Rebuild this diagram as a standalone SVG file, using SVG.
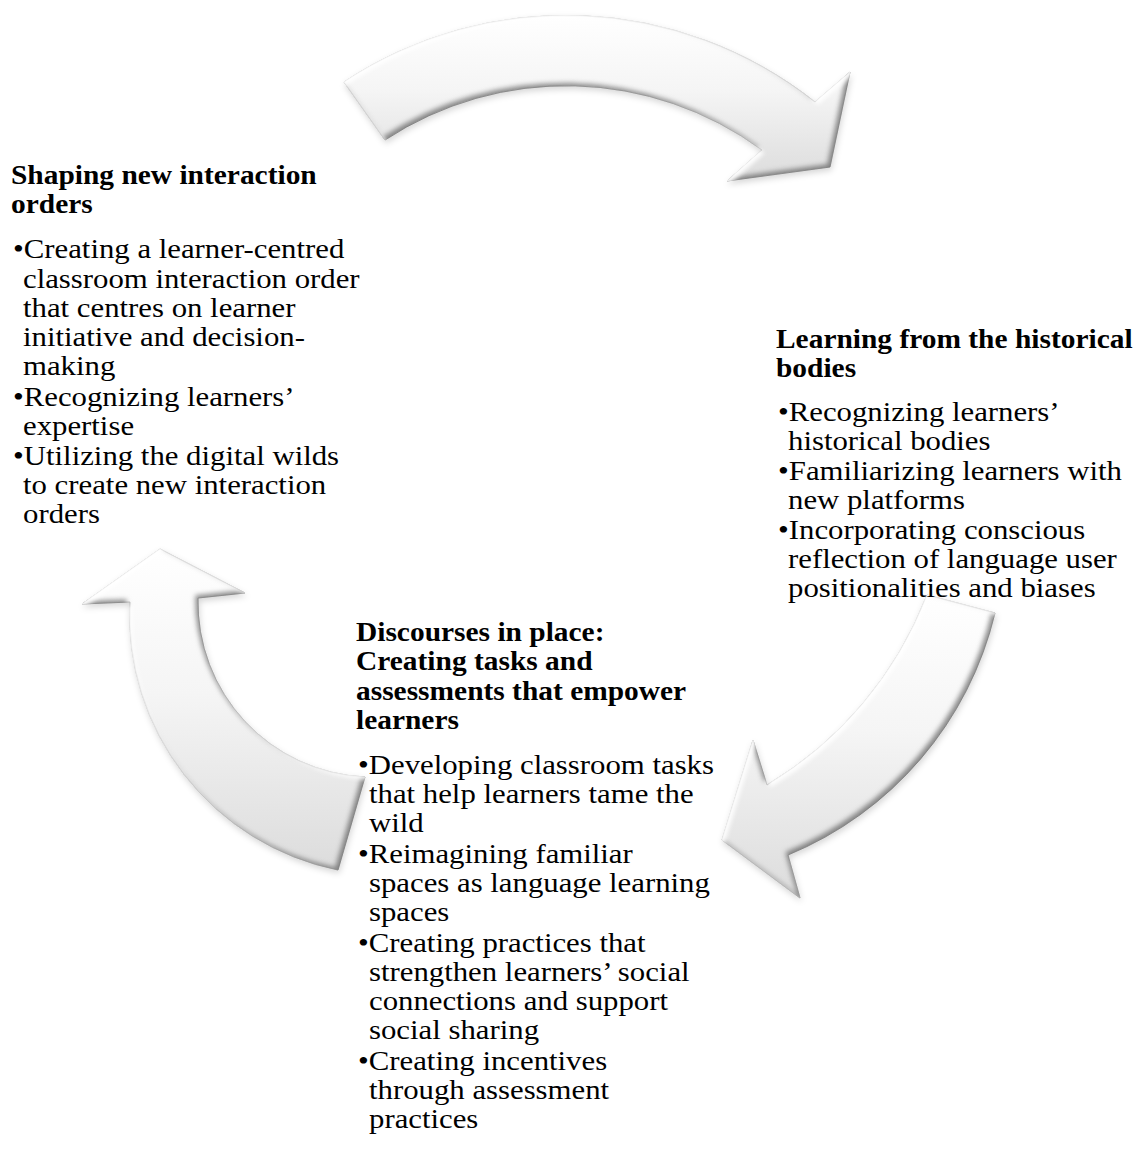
<svg xmlns="http://www.w3.org/2000/svg" width="1142" height="1173" viewBox="0 0 1142 1173">
<defs>
<linearGradient id="gFill" x1="0" y1="0" x2="0" y2="1">
<stop offset="0" stop-color="#ffffff"/>
<stop offset="0.45" stop-color="#f5f5f5"/>
<stop offset="1" stop-color="#dcdcdc"/>
</linearGradient>
<filter id="bev" x="-10%" y="-10%" width="125%" height="125%" color-interpolation-filters="sRGB">
<feOffset in="SourceAlpha" dx="-3" dy="-3" result="o"/>
<feGaussianBlur in="o" stdDeviation="2.5" result="ob"/>
<feComposite in="SourceAlpha" in2="ob" operator="out" result="edge"/>
<feFlood flood-color="#5a5a5a" flood-opacity="0.7"/>
<feComposite in2="edge" operator="in" result="shade"/>
<feOffset in="SourceAlpha" dx="3" dy="3" result="o2"/>
<feGaussianBlur in="o2" stdDeviation="2" result="o2b"/>
<feComposite in="SourceAlpha" in2="o2b" operator="out" result="edge2"/>
<feFlood flood-color="#ffffff" flood-opacity="0.95"/>
<feComposite in2="edge2" operator="in" result="hl"/>
<feGaussianBlur in="SourceAlpha" stdDeviation="3" result="sb0"/>
<feOffset in="sb0" dx="1" dy="3" result="sb"/>
<feFlood flood-color="#000000" flood-opacity="0.16"/>
<feComposite in2="sb" operator="in" result="shadow"/>
<feMerge><feMergeNode in="shadow"/><feMergeNode in="SourceGraphic"/><feMergeNode in="shade"/><feMergeNode in="hl"/></feMerge>
</filter>
<style>
.arrow{fill:url(#gFill);stroke:#b4b4b4;stroke-width:0.8;filter:url(#bev);}
.t{font-family:"Liberation Serif","Times New Roman",serif;font-size:27px;fill:#000;}
.b{font-weight:bold;}
</style>
</defs>
<rect width="1142" height="1173" fill="#ffffff"/>
<g id="connectors">
<path id="arrow-top" class="arrow" d="M344,82 A402,402 0 0 1 815,102 L850,72 L830,167 L727,181 L762,150 A330,330 0 0 0 385,140 Z"/>
<path id="arrow-right" class="arrow" d="M927,595 L995,613 A350,350 0 0 1 788,855 L800,898 L722,840 L753,740 L767,785 A380,380 0 0 0 927,595 Z"/>
<path id="arrow-left" class="arrow" d="M338,870 L365,777 A175,175 0 0 1 198,598 L245,593 L160,549 L82,604 L130,602 A260,260 0 0 0 338,870 Z"/>
</g>
<g id="node-shaping">
<g transform="translate(11,0) scale(1.09,1)">
<text class="t b" x="0" y="184">Shaping new interaction</text>
<text class="t b" x="0" y="213">orders</text>
</g>
<g transform="translate(13,0) scale(1.14,1)">
<text class="t" x="0" y="258">•Creating a learner-centred</text>
<text class="t" x="0" y="406">•Recognizing learners’</text>
<text class="t" x="0" y="465">•Utilizing the digital wilds</text>
</g>
<g transform="translate(23,0) scale(1.14,1)">
<text class="t" x="0" y="288">classroom interaction order</text>
<text class="t" x="0" y="317">that centres on learner</text>
<text class="t" x="0" y="346">initiative and decision-</text>
<text class="t" x="0" y="375">making</text>
<text class="t" x="0" y="435">expertise</text>
<text class="t" x="0" y="494">to create new interaction</text>
<text class="t" x="0" y="523">orders</text>
</g>
</g>
<g id="node-learning">
<g transform="translate(776,0) scale(1.09,1)">
<text class="t b" x="0" y="348">Learning from the historical</text>
<text class="t b" x="0" y="377">bodies</text>
</g>
<g transform="translate(778,0) scale(1.14,1)">
<text class="t" x="0" y="421">•Recognizing learners’</text>
<text class="t" x="0" y="480">•Familiarizing learners with</text>
<text class="t" x="0" y="539">•Incorporating conscious</text>
</g>
<g transform="translate(788,0) scale(1.14,1)">
<text class="t" x="0" y="450">historical bodies</text>
<text class="t" x="0" y="509">new platforms</text>
<text class="t" x="0" y="568">reflection of language user</text>
<text class="t" x="0" y="597">positionalities and biases</text>
</g>
</g>
<g id="node-discourses">
<g transform="translate(356,0) scale(1.09,1)">
<text class="t b" x="0" y="641">Discourses in place:</text>
<text class="t b" x="0" y="670">Creating tasks and</text>
<text class="t b" x="0" y="700">assessments that empower</text>
<text class="t b" x="0" y="729">learners</text>
</g>
<g transform="translate(358,0) scale(1.14,1)">
<text class="t" x="0" y="774">•Developing classroom tasks</text>
<text class="t" x="0" y="863">•Reimagining familiar</text>
<text class="t" x="0" y="952">•Creating practices that</text>
<text class="t" x="0" y="1070">•Creating incentives</text>
</g>
<g transform="translate(369,0) scale(1.14,1)">
<text class="t" x="0" y="803">that help learners tame the</text>
<text class="t" x="0" y="832">wild</text>
<text class="t" x="0" y="892">spaces as language learning</text>
<text class="t" x="0" y="921">spaces</text>
<text class="t" x="0" y="981">strengthen learners’ social</text>
<text class="t" x="0" y="1010">connections and support</text>
<text class="t" x="0" y="1039">social sharing</text>
<text class="t" x="0" y="1099">through assessment</text>
<text class="t" x="0" y="1128">practices</text>
</g>
</g>
</svg>
